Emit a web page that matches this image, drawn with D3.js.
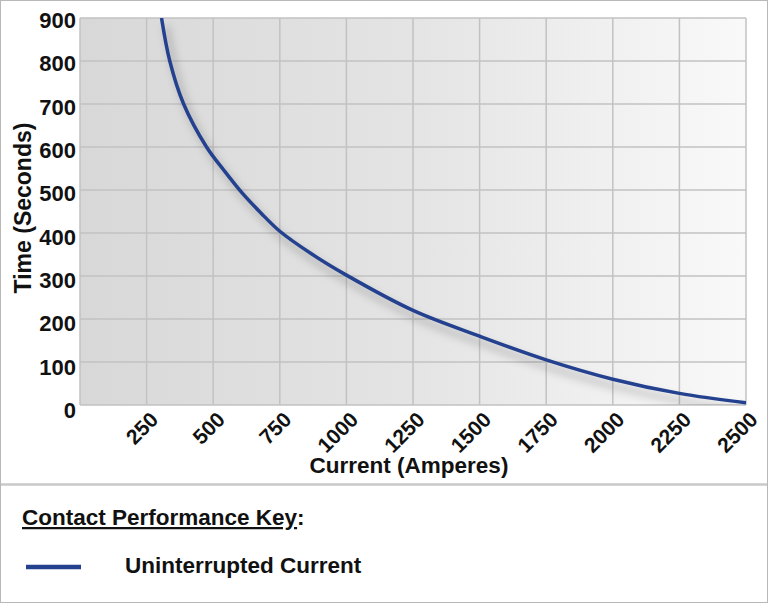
<!DOCTYPE html>
<html>
<head>
<meta charset="utf-8">
<script src="https://cdn.jsdelivr.net/npm/d3@7"></script>
<style>
  body { margin: 0; background: #fff; }
  text { font-family: Arial, "Liberation Sans", Helvetica, sans-serif; font-weight: bold; fill: #111; }
</style>
</head>
<body>
<div id="chart"></div>
<script>
// values
let currentAmps = [306, 337, 389, 475, 540, 610, 680, 750, 870, 1000, 1250, 1500, 1750, 2000, 2250, 2500];
let timeSeconds = [900, 800, 700, 600, 546, 492, 446, 404, 351, 302, 220, 160, 105, 60, 27, 5];
let xTicks = [250, 500, 750, 1000, 1250, 1500, 1750, 2000, 2250, 2500];
let yTicks = [0, 100, 200, 300, 400, 500, 600, 700, 800, 900];
let seriesName = "Uninterrupted Current";

function drawChart() {
	let W = 768, H = 603;
	let lineColor = "#23418f";

	let svg = d3.select("#chart")
		.append("svg")
		.attr("width", W)
		.attr("height", H);

	// outer frame + separator
	svg.append("rect")
		.attr("x", 0.5).attr("y", 0.5)
		.attr("width", W - 1).attr("height", H - 1)
		.attr("fill", "#fff")
		.attr("stroke", "#b8b8b8");

	svg.append("line")
		.attr("x1", 1).attr("x2", W - 1)
		.attr("y1", 484.5).attr("y2", 484.5)
		.attr("stroke", "#c9c9c9")
		.attr("stroke-width", 2.5);

	let xScale = d3.scaleLinear().domain([0, 2500]).range([80, 746]);
	let yScale = d3.scaleLinear().domain([0, 900]).range([405, 18]);

	let defs = svg.append("defs");
	let grad = defs.append("linearGradient").attr("id", "bg");
	grad.append("stop").attr("offset", "0%").attr("stop-color", "#d8d8d8");
	grad.append("stop").attr("offset", "50%").attr("stop-color", "#e4e4e4");
	grad.append("stop").attr("offset", "100%").attr("stop-color", "#f9f9f9");

	let blur = defs.append("filter").attr("id", "shadow")
		.attr("x", "-10%").attr("y", "-10%").attr("width", "130%").attr("height", "130%");
	blur.append("feGaussianBlur").attr("stdDeviation", 4);

	defs.append("clipPath").attr("id", "plotClip")
		.append("rect")
		.attr("x", xScale(0)).attr("y", yScale(900))
		.attr("width", xScale(2500) - xScale(0))
		.attr("height", yScale(0) - yScale(900));

	svg.append("rect")
		.attr("x", xScale(0)).attr("y", yScale(900))
		.attr("width", xScale(2500) - xScale(0))
		.attr("height", yScale(0) - yScale(900))
		.attr("fill", "url(#bg)");

	// grid
	let grid = svg.append("g").attr("stroke", "#c2c2c2").attr("stroke-width", 1.5);
	grid.selectAll(".vx")
		.data([0].concat(xTicks))
		.enter().append("line")
		.attr("x1", d => xScale(d)).attr("x2", d => xScale(d))
		.attr("y1", yScale(900)).attr("y2", yScale(0));
	grid.selectAll(".hy")
		.data(yTicks)
		.enter().append("line")
		.attr("x1", xScale(0)).attr("x2", xScale(2500))
		.attr("y1", d => yScale(d)).attr("y2", d => yScale(d));

	let pts = currentAmps.map((c, i) => [c, timeSeconds[i]]);
	let line = d3.line()
		.x(d => xScale(d[0]))
		.y(d => yScale(d[1]))
		.curve(d3.curveCatmullRom.alpha(0.5));

	let plot = svg.append("g").attr("clip-path", "url(#plotClip)");
	plot.append("path")
		.datum(pts)
		.attr("d", line)
		.attr("fill", "none")
		.attr("stroke", "#000")
		.attr("stroke-opacity", 0.22)
		.attr("stroke-width", 5)
		.attr("transform", "translate(5,8)")
		.attr("filter", "url(#shadow)");
	plot.append("path")
		.datum(pts)
		.attr("d", line)
		.attr("fill", "none")
		.attr("stroke", lineColor)
		.attr("stroke-width", 3.5);

	// y labels
	svg.append("g").selectAll("text")
		.data(yTicks)
		.enter().append("text")
		.attr("x", 76)
		.attr("y", d => yScale(d) + 10 + (900 - d) / 900 * 3)
		.attr("text-anchor", "end")
		.style("font-size", "22px")
		.text(d => d);

	// x labels, rotated
	svg.append("g").selectAll("text")
		.data(xTicks)
		.enter().append("text")
		.attr("transform", d => "translate(" + (xScale(d) + 13) + ",421) rotate(-45)")
		.attr("text-anchor", "end")
		.style("font-size", "21px")
		.text(d => d);

	svg.append("text")
		.attr("x", 409).attr("y", 473)
		.attr("text-anchor", "middle")
		.style("font-size", "22.5px")
		.text("Current (Amperes)");

	svg.append("text")
		.attr("transform", "translate(31,208) rotate(-90)")
		.attr("text-anchor", "middle")
		.style("font-size", "23px")
		.text("Time (Seconds)");

	// key
	let key = svg.append("text")
		.attr("x", 22).attr("y", 525)
		.style("font-size", "22.5px");
	key.append("tspan")
		.attr("text-decoration", "underline")
		.text("Contact Performance Key");
	key.append("tspan").text(":");

	svg.append("line")
		.attr("x1", 26).attr("x2", 81)
		.attr("y1", 567).attr("y2", 567)
		.attr("stroke", lineColor)
		.attr("stroke-width", 4.5);

	svg.append("text")
		.attr("x", 125).attr("y", 573)
		.style("font-size", "22.5px")
		.text(seriesName);
}

drawChart();
</script>
</body>
</html>
